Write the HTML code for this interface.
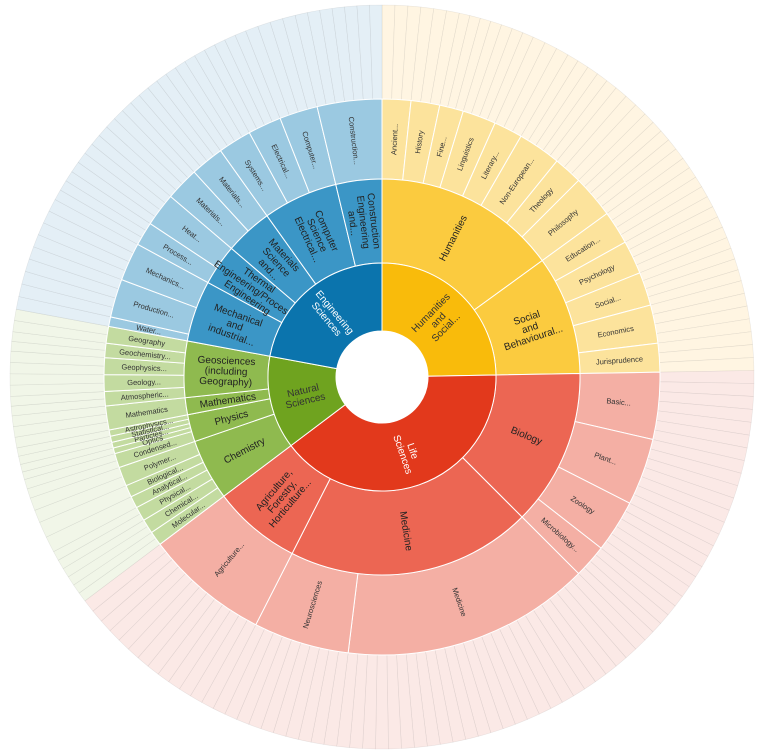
<!DOCTYPE html>
<html><head><meta charset="utf-8">
<style>
html,body{margin:0;padding:0;background:#fff;}
svg{display:block;font-family:"Liberation Sans",sans-serif;}
</style></head>
<body>
<svg id="chart" width="762" height="756" viewBox="0 0 762 756"></svg>
<script>
// ---- data ----
const topNames = ["Humanities\nand\nSocial...", "Life\nSciences", "Natural\nSciences", "Engineering\nSciences"];
const topFill = ["#f9bb0b", "#e2391c", "#6fa31f", "#0b74ad"];
const midFill = ["#fbcb3f", "#ec6653", "#8fba4f", "#3b96c6"];
const leafFill = ["#fce39c", "#f4afa4", "#c3dba0", "#9bc9e1"];
const outerFill = ["#fff5e2", "#fbe9e6", "#f1f6e8", "#e4eff6"];
const topLabelColor = ["#333", "#fff", "#333", "#fff"];
const midNames = ["Humanities", "Social\nand\nBehavioural...", "Biology", "Medicine", "Agriculture,\nForestry,\nHorticulture...", "Chemistry", "Physics", "Mathematics", "Geosciences\n(including\nGeography)", "Mechanical\nand\nindustrial...", "Thermal\nEngineering/Process\nEngineering", "Materials\nScience\nand...", "Computer\nScience\nElectrical...", "Construction\nEngineering\nand..."];
const midParent = [0,0,1,1,1,2,2,2,2,3,3,3,3,3];
const leafNames = ["Ancient...","History","Fine...","Linguistics","Literary...","Non-European...","Theology","Philosophy",
 "Education...","Psychology","Social...","Economics","Jurisprudence",
 "Basic...","Plant...","Zoology","Microbiology...",
 "Medicine","Neurosciences",
 "Agriculture...",
 "Molecular...","Chemical...","Physical...","Analytical...","Biological...","Polymer...",
 "Condensed...","Optics","Particles...","Statistical...","Astrophysics...",
 "Mathematics",
 "Atmospheric...","Geology...","Geophysics...","Geochemistry...","Geography",
 "Water...","Production...","Mechanics...",
 "Process...","Heat...",
 "Materials...","Materials...",
 "Systems...","Electrical...","Computer...",
 "Construction..."];
const leafParent = [0,0,0,0,0,0,0,0, 1,1,1,1,1, 2,2,2,2, 3,3, 4, 5,5,5,5,5,5, 6,6,6,6,6, 7, 8,8,8,8,8, 9,9,9, 10,10, 11,11, 12,12,12, 13];
const leafValues = [6,6,5,7,6,9,6,9, 7,7,7,8,6, 14,14,11,7, 52,20, 26, 3,3,3,2.5,2.5,4, 3,1.2,1.2,1.3,1.3, 5, 3,3.5,3.5,3,3.5, 2,8,8, 5,7, 7,7, 7,7,8, 13.5];

// ---- geometry ----
const cx = 382, cy = 377;
const R = [46, 114, 198, 278, 372];
const svg = document.getElementById('chart');
const NS = "http://www.w3.org/2000/svg";
const total = leafValues.reduce((a,b)=>a+b,0);
const angle = v => v / total * 2 * Math.PI;
function pt(r, a){ return [cx + r*Math.sin(a), cy - r*Math.cos(a)]; }
function arc(r0, r1, a0, a1){
  const large = (a1 - a0) > Math.PI ? 1 : 0;
  const [x0,y0]=pt(r1,a0),[x1,y1]=pt(r1,a1),[x2,y2]=pt(r0,a1),[x3,y3]=pt(r0,a0);
  return `M${x0},${y0}A${r1},${r1} 0 ${large} 1 ${x1},${y1}L${x2},${y2}A${r0},${r0} 0 ${large} 0 ${x3},${y3}Z`;
}
function addPath(d, fill, stroke, sw){
  const p = document.createElementNS(NS,'path');
  p.setAttribute('d', d); p.setAttribute('fill', fill);
  p.setAttribute('stroke', stroke); p.setAttribute('stroke-width', sw);
  svg.appendChild(p); return p;
}
function addLabel(text, a, r, size, color){
  const deg = a*180/Math.PI;
  const rot = deg < 180 ? deg - 90 : deg + 90;
  const [x,y] = pt(r, a);
  const t = document.createElementNS(NS,'text');
  t.setAttribute('transform', `translate(${x},${y}) rotate(${rot})`);
  t.setAttribute('text-anchor','middle');
  t.setAttribute('font-size', size);
  t.setAttribute('fill', color);
  const lines = text.split('\n');
  lines.forEach((ln,i)=>{
    const s = document.createElementNS(NS,'tspan');
    s.setAttribute('x',0);
    s.setAttribute('y', (i - (lines.length-1)/2)*size*1.05 + size*0.35);
    s.textContent = ln; t.appendChild(s);
  });
  svg.appendChild(t); return t;
}

const midStart = {}, midEnd = {}, topStart = {}, topEnd = {};
let acc = 0;
const leafA = [];
leafValues.forEach((v,i)=>{
  const a0 = acc, a1 = acc + angle(v); acc = a1;
  leafA.push([a0,a1]);
  const m = leafParent[i], t = midParent[m];
  if(!(m in midStart)) midStart[m]=a0; midEnd[m]=a1;
  if(!(t in topStart)) topStart[t]=a0; topEnd[t]=a1;
});

leafValues.forEach((v,i)=>{
  const [a0,a1] = leafA[i];
  const t = midParent[leafParent[i]];
  const n = Math.max(1, Math.round(v/2));
  for(let k=0;k<n;k++){
    const b0 = a0 + (a1-a0)*k/n, b1 = a0 + (a1-a0)*(k+1)/n;
    const p = addPath(arc(R[3],R[4],b0,b1), outerFill[t], "rgba(0,0,0,0.08)", 0.6);
    
    
  }
});
leafValues.forEach((v,i)=>{
  const [a0,a1] = leafA[i];
  const t = midParent[leafParent[i]];
  const p = addPath(arc(R[2],R[3],a0,a1), leafFill[t], "#fff", 1);
  
  
  const l = addLabel(leafNames[i], (a0+a1)/2, (R[2]+R[3])/2, 7.5, "#333");
  
  
});
midNames.forEach((nm,m)=>{
  const t = midParent[m];
  const p = addPath(arc(R[1],R[2],midStart[m],midEnd[m]), midFill[t], "#fff", 1);
  
  
  const l = addLabel(nm, (midStart[m]+midEnd[m])/2, (R[1]+R[2])/2, 10, "#222");
  
  
});
topNames.forEach((nm,t)=>{
  const p = addPath(arc(R[0],R[1],topStart[t],topEnd[t]), topFill[t], "#fff", 1);
  
  
  const l = addLabel(nm, (topStart[t]+topEnd[t])/2, (R[0]+R[1])/2, 10, topLabelColor[t]);
  
  
});
</script>
</body></html>
